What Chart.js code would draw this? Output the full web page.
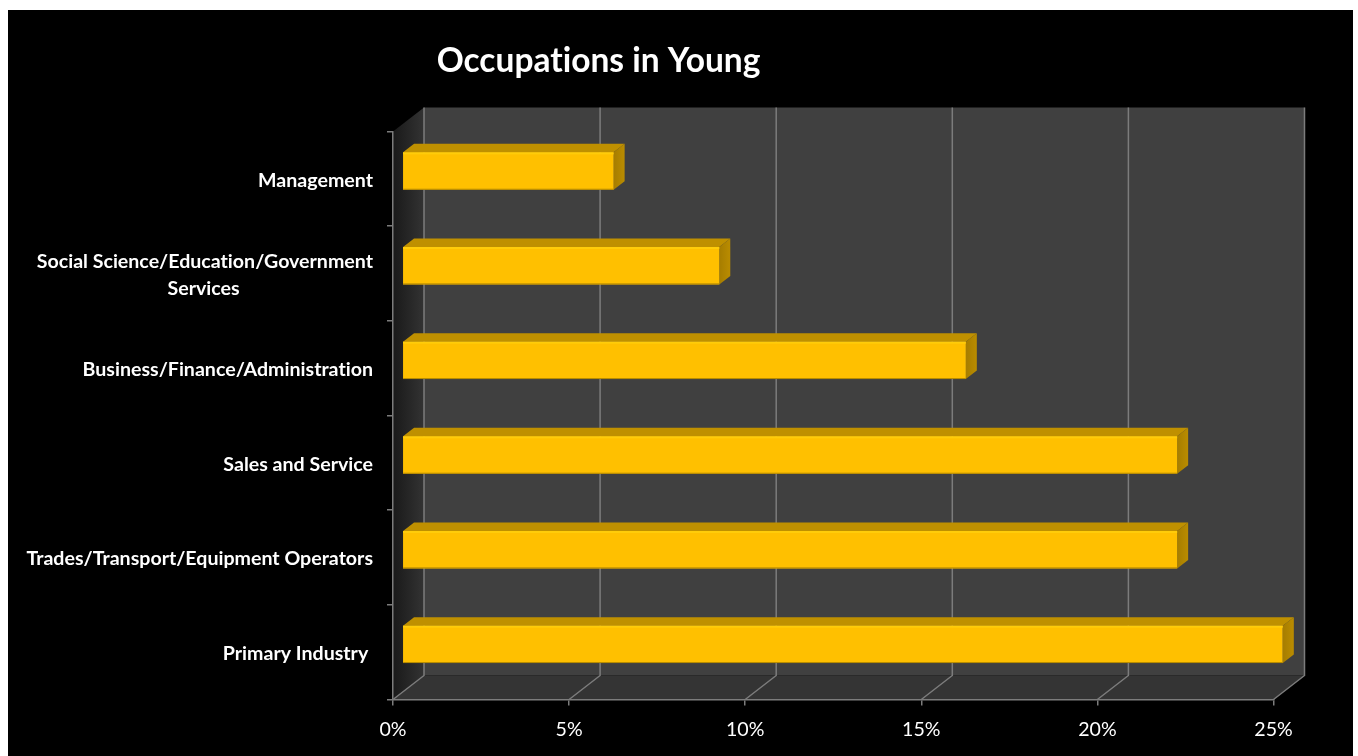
<!DOCTYPE html>
<html>
<head>
<meta charset="utf-8">
<title>Occupations in Young</title>
<script src="https://cdn.jsdelivr.net/npm/chart.js@4"></script>
<style>
  html, body { margin: 0; padding: 0; background: #fff; overflow: hidden; }
  canvas { display: block; }
</style>
</head>
<body>
<canvas id="occupationsChart" width="1358" height="756"></canvas>
<script>
/**************************************************
 * DATA
 **************************************************/
const titleText = "Occupations in Young";
const categories = [
  "Management",
  ["Social Science/Education/Government", "Services"],
  "Business/Finance/Administration",
  "Sales and Service",
  "Trades/Transport/Equipment Operators",
  "Primary Industry "
];
const shares = [6, 9, 16, 22, 22, 25];
const tickStep = 5;
const tickMax = 25;

/**************************************************
 * STYLE
 **************************************************/
const labelFont = "Lato";
const labelSize = 19.6;
const lineGray = "#7c7c7c";
const wallDepth = { x: 31, y: -24 };   // back wall offset from the front axes
const barOffset = { x: 9.3, y: -7.8 }; // bars stand inside the box
const barDepth = { x: 11, y: -8.5 };

// the second line of a wrapped label is centred under the first one
const measureCtx = document.createElement("canvas").getContext("2d");
function centerLines(label) {
  if (!Array.isArray(label)) return label;
  measureCtx.font = "bold " + labelSize + "px " + labelFont;
  measureCtx.textRendering = "optimizeSpeed";
  const widest = Math.max(...label.map(l => measureCtx.measureText(l).width));
  const space = measureCtx.measureText(" ").width;
  return label.map(l => l + " ".repeat(Math.round((widest - measureCtx.measureText(l).width) / 2 / space)));
}

/**************************************************
 * 3D BOX AND BAR FACES
 **************************************************/
const box3d = {
  id: "box3d",
  beforeDraw(chart) {
    const { ctx, chartArea: a, scales: { x } } = chart;
    const dx = wallDepth.x, dy = wallDepth.y;

    // Calibri-like text, no "ti" ligatures
    ctx.textRendering = "optimizeSpeed";

    ctx.save();
    ctx.fillStyle = "#000";
    ctx.fillRect(8, 10, 1345, 746);

    // back wall
    ctx.fillStyle = "#404040";
    ctx.fillRect(a.left + dx, a.top + dy, a.right - a.left, a.bottom - a.top);

    // floor
    ctx.fillStyle = "#343434";
    ctx.beginPath();
    ctx.moveTo(a.left, a.bottom);
    ctx.lineTo(a.right, a.bottom);
    ctx.lineTo(a.right + dx, a.bottom + dy);
    ctx.lineTo(a.left + dx, a.bottom + dy);
    ctx.closePath();
    ctx.fill();

    // left wall
    const side = ctx.createLinearGradient(a.left, 0, a.left + dx, 0);
    side.addColorStop(0, "#1a1a1a");
    side.addColorStop(0.5, "#262626");
    side.addColorStop(1, "#333333");
    ctx.fillStyle = side;
    ctx.beginPath();
    ctx.moveTo(a.left, a.top);
    ctx.lineTo(a.left + dx, a.top + dy);
    ctx.lineTo(a.left + dx, a.bottom + dy);
    ctx.lineTo(a.left, a.bottom);
    ctx.closePath();
    ctx.fill();

    // grid lines run along the floor and up the back wall
    ctx.strokeStyle = lineGray;
    ctx.lineWidth = 1.5;
    x.ticks.forEach(t => {
      const px = x.getPixelForValue(t.value);
      ctx.beginPath();
      ctx.moveTo(px, a.bottom);
      ctx.lineTo(px + dx, a.bottom + dy);
      ctx.lineTo(px + dx, a.top + dy);
      ctx.stroke();
    });
    ctx.restore();
  },
  beforeDatasetDraw(chart) {
    const { ctx } = chart;
    const bars = chart.getDatasetMeta(0).data;
    const ox = barOffset.x, oy = barOffset.y;
    const dx = barDepth.x, dy = barDepth.y;

    ctx.save();
    ctx.translate(ox, oy);
    bars.forEach(b => {
      const top = b.y - b.height / 2;
      const bottom = b.y + b.height / 2;

      // top face
      ctx.fillStyle = "#BF9000";
      ctx.beginPath();
      ctx.moveTo(b.base, top);
      ctx.lineTo(b.base + dx, top + dy);
      ctx.lineTo(b.x + dx, top + dy);
      ctx.lineTo(b.x, top);
      ctx.closePath();
      ctx.fill();

      // end face
      const end = ctx.createLinearGradient(b.x, 0, b.x + dx, 0);
      end.addColorStop(0, "#A67D00");
      end.addColorStop(1, "#BA8C00");
      ctx.fillStyle = end;
      ctx.beginPath();
      ctx.moveTo(b.x, top);
      ctx.lineTo(b.x + dx, top + dy);
      ctx.lineTo(b.x + dx, bottom + dy);
      ctx.lineTo(b.x, bottom);
      ctx.closePath();
      ctx.fill();
    });
  },
  afterDatasetDraw(chart) {
    const { ctx } = chart;
    chart.getDatasetMeta(0).data.forEach(b => {
      const top = b.y - b.height / 2;
      const bottom = b.y + b.height / 2;
      // lit top edge and shaded bottom edge of the front face
      ctx.fillStyle = "#FFCC0A";
      ctx.fillRect(b.base, top, b.x - b.base, 2);
      ctx.fillStyle = "#B48800";
      ctx.fillRect(b.base, bottom - 1, b.x - b.base, 1);
    });
    ctx.restore();
  }
};

// the title sits left of centre, over the plot and not over the page
const moveTitle = {
  id: "moveTitle",
  beforeDraw(chart) {
    chart.titleBlock.left = 436;
    chart.titleBlock.right = 761;
  }
};

/**************************************************
 * CHART
 **************************************************/
new Chart(document.getElementById("occupationsChart"), {
  type: "bar",
  data: {
    labels: categories,
    datasets: [
      {
        data: shares,
        backgroundColor: "#FFC000",
        barPercentage: 0.395,
        categoryPercentage: 1
      }
    ]
  },
  options: {
    indexAxis: "y",
    responsive: false,
    animation: false,
    layout: {
      padding: { top: 0, right: 84.5, bottom: 0, left: 0 }
    },
    plugins: {
      legend: { display: false },
      tooltip: { enabled: false },
      title: {
        display: true,
        text: titleText,
        color: "#fff",
        font: { family: labelFont, size: 33.5, weight: "bold" },
        padding: { top: 41.5, bottom: 49.8 }
      }
    },
    scales: {
      x: {
        min: 0,
        max: tickMax,
        afterFit: s => { s.height = 56.5; },
        grid: { drawOnChartArea: false, color: lineGray, tickLength: 6, lineWidth: 1.5 },
        border: { color: lineGray, width: 1.5 },
        ticks: {
          stepSize: tickStep,
          color: "#fff",
          padding: 12,
          maxRotation: 0,
          font: { family: labelFont, size: labelSize },
          callback: v => v + "%"
        }
      },
      y: {
        afterFit: s => { s.width = 393; },
        grid: { drawOnChartArea: false, color: lineGray, tickLength: 6, lineWidth: 1.5 },
        border: { color: lineGray, width: 1.5 },
        ticks: {
          color: "#fff",
          padding: 14,
          labelOffset: 1.5,
          autoSkip: false,
          font: { family: labelFont, size: labelSize, weight: "bold", lineHeight: 1.38 },
          callback(value) { return centerLines(this.getLabelForValue(value)); }
        }
      }
    }
  },
  plugins: [box3d, moveTitle]
});
</script>
</body>
</html>
